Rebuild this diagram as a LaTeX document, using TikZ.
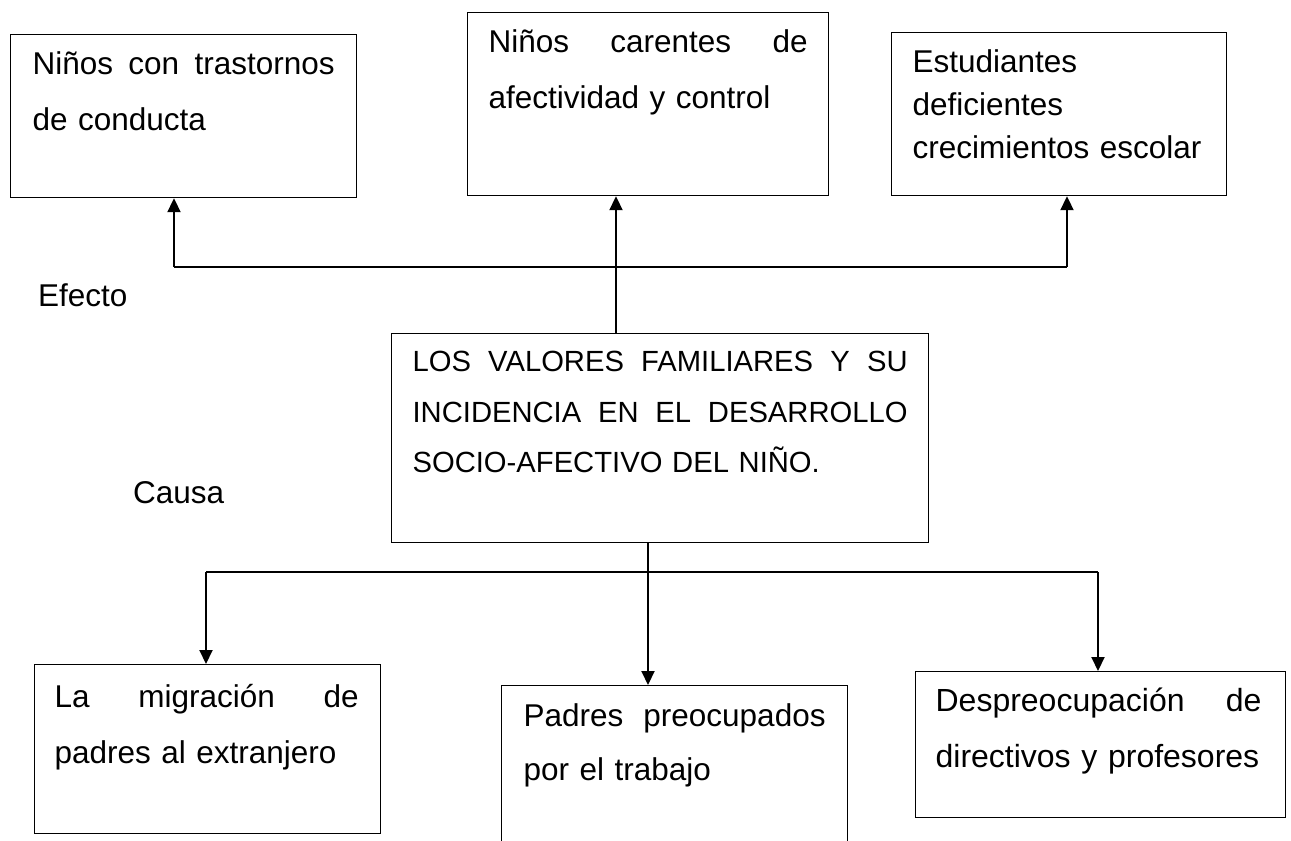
\documentclass[tikz,border=0pt]{standalone}
\usepackage{fontspec}
\setmainfont{Liberation Sans}
\usetikzlibrary{arrows.meta}
\newcommand{\jline}[2]{\leavevmode\hbox to #1{#2}}
\begin{document}
\begin{tikzpicture}[x=1pt,y=-1pt,
  box/.style={draw=black, line width=1.2pt, inner ysep=0pt, anchor=north west, align=left,
    font=\fontsize{31.5}{56}\selectfont},
  arr/.style={line width=2pt, -{Triangle[length=14pt,width=13pt]}},
  conn/.style={line width=2pt},
  lbl/.style={anchor=base west, inner sep=0pt, font=\fontsize{31.5}{38}\selectfont}]
\useasboundingbox[fill=white] (0,0) rectangle (1291,841);
\clip (0,0) rectangle (1291,841);

% effect boxes
\node[box, text width=302pt, inner xsep=22pt, text height=40pt, text depth=123pt] (A) at (10,34)
  {\jline{302pt}{Niños\hfill con\hfill trastornos}\\de conducta};
\node[box, text width=319pt, inner xsep=21pt, text height=40pt, text depth=143pt] (B) at (467,12)
  {\jline{319pt}{Niños\hfill carentes\hfill de}\\afectividad y control};
\node[box, text width=293pt, inner xsep=21pt, text height=40pt, text depth=123pt,
  font=\fontsize{31.5}{43}\selectfont] (C) at (891,32)
  {Estudiantes\\deficientes\\crecimientos escolar};

% central problem
\node[box, text width=495pt, inner xsep=21pt, text height=38pt, text depth=171pt,
  font=\fontsize{29.2}{50.5}\selectfont] (P) at (391,333)
  {\jline{495pt}{LOS\hfill VALORES\hfill FAMILIARES\hfill Y\hfill SU}\\\jline{495pt}{INCIDENCIA\hfill EN\hfill EL\hfill DESARROLLO}\\SOCIO-AFECTIVO DEL NIÑO.};

% cause boxes
\node[box, text width=306pt, inner xsep=20pt, text height=43pt, text depth=126pt] (D) at (34,664)
  {\jline{304pt}{La\hfill migración\hfill de}\\padres al extranjero};
\node[box, text width=302pt, inner xsep=22pt, text height=41pt, text depth=200pt,
  font=\fontsize{31.5}{54}\selectfont] (E) at (501,685)
  {\jline{302pt}{Padres\hfill preocupados}\\por el trabajo};
\node[box, text width=330pt, inner xsep=20pt, text height=40pt, text depth=106pt,
  font=\fontsize{32}{56}\selectfont] (F) at (915,671)
  {\jline{326pt}{Despreocupación\hfill de}\\directivos y profesores};

% labels
\node[lbl] (efecto) at (38,306) {Efecto};
\node[lbl] (causa) at (133,503) {Causa};

% top connectors
\coordinate (t1) at (174,267);
\coordinate (tc) at (616,267);
\coordinate (t3) at (1067,267);
\draw[conn] (t1) -- (t3);
\draw[arr] (t1) -- (A.south -| t1);
\draw[arr] (t3) -- (C.south -| t3);
\draw[arr] (P.north -| tc) -- (B.south -| tc);

% bottom connectors
\coordinate (b1) at (206,572);
\coordinate (bc) at (648,572);
\coordinate (b3) at (1098,572);
\draw[conn] (b1) -- (b3);
\draw[arr] (b1) -- (D.north -| b1);
\draw[arr] (b3) -- (F.north -| b3);
\draw[arr] (P.south -| bc) -- (E.north -| bc);
\end{tikzpicture}
\end{document}
